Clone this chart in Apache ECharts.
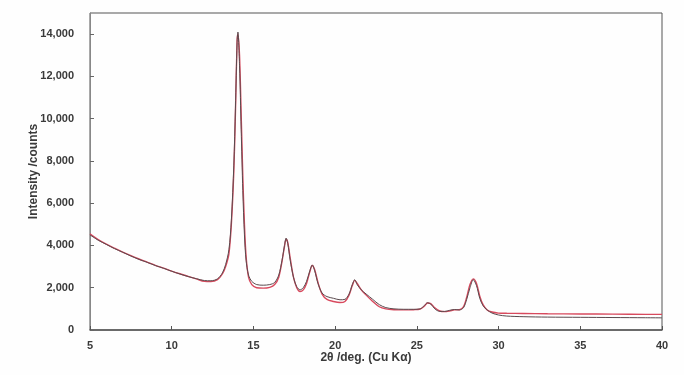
<!DOCTYPE html>
<html>
<head>
<meta charset="utf-8">
<script src="https://cdn.jsdelivr.net/npm/echarts@6/dist/echarts.min.js"></script>
<style>
  html, body { margin: 0; padding: 0; background: #fefefe; }
  #chart { width: 684px; height: 375px; }
</style>
</head>
<body>
<div id="chart"></div>
<script>
// XRD pattern: 2-theta angles (deg) and intensities (counts)
const twoTheta = [
  5.0, 5.5, 6.0, 6.5, 7.0, 7.5, 8.0, 8.5, 9.0, 9.5, 10.0, 10.5, 11.0, 11.5, 12.0, 12.4, 12.8,
  13.1, 13.3, 13.5, 13.65, 13.8, 13.9, 14.0, 14.05, 14.15, 14.25, 14.35, 14.45, 14.55, 14.7, 14.9,
  15.2, 15.6, 16.0, 16.3, 16.55, 16.75, 16.9, 17.0, 17.1, 17.25, 17.45, 17.65, 17.85, 18.05, 18.25,
  18.45, 18.6, 18.75, 18.95, 19.2, 19.5, 19.9, 20.3, 20.6, 20.85, 21.05, 21.2, 21.35, 21.6, 21.9,
  22.3, 22.7, 23.1, 23.6, 24.2, 24.8, 25.2, 25.45, 25.65, 25.85, 26.1, 26.4, 26.7, 27.0, 27.3,
  27.6, 27.85, 28.05, 28.25, 28.45, 28.65, 28.85, 29.05, 29.3, 29.6, 30.0, 30.5, 31.5, 33.0, 35.0,
  37.0, 39.0, 40.0
];

// measured intensity (red trace)
const observed = [
  4550, 4280, 4060, 3870, 3690, 3520, 3360, 3210, 3060, 2930, 2790, 2660, 2540, 2420, 2300, 2290, 2380,
  2650, 3000, 3600, 5000, 7500, 10300, 13700, 14000, 13000, 10200, 7300, 5000, 3500, 2500, 2150,
  2000, 1980, 2020, 2150, 2500, 3250, 3950, 4300, 4150, 3400, 2500, 2000, 1820, 1900, 2200,
  2750, 3050, 2850, 2250, 1700, 1450, 1350, 1300, 1350, 1650, 2100, 2350, 2200, 1900, 1650,
  1350, 1100, 1000, 960, 950, 960, 990, 1120, 1280, 1250, 1050, 900, 870, 900, 950,
  960, 1100, 1550, 2150, 2420, 2200, 1600, 1200, 950, 850, 800, 790, 780, 770, 760,
  750, 740, 740
];

// fitted profile (dark trace)
const fitted = [
  4500, 4250, 4050, 3850, 3680, 3500, 3340, 3200, 3050, 2920, 2780, 2650, 2530, 2430, 2340, 2330, 2420,
  2700, 3100, 3800, 5200, 7800, 10500, 13600, 14100, 12500, 9500, 6600, 4500, 3300, 2600, 2300,
  2150, 2120, 2150, 2250, 2600, 3300, 4000, 4350, 4100, 3300, 2500, 2050, 1900, 2000, 2300,
  2800, 3080, 2800, 2200, 1750, 1580, 1500, 1430, 1450, 1700, 2150, 2380, 2150, 1900, 1700,
  1450, 1200, 1060, 1000, 980, 980, 1000, 1150, 1290, 1230, 1000, 880, 880, 930, 970,
  950, 1050, 1450, 2000, 2380, 2100, 1500, 1150, 950, 800, 710, 660, 630, 610, 600,
  590, 580, 575
];

const xTicks = [5, 10, 15, 20, 25, 30, 35, 40];
const yTicks = [0, 2000, 4000, 6000, 8000, 10000, 12000, 14000];

const pairs = (ys) => twoTheta.map((x, i) => [x, ys[i]]);

const labelFont = {
  fontFamily: 'Liberation Sans, Arial, sans-serif',
  fontSize: 11,
  fontWeight: 'bold',
  color: '#3a3a3a'
};

const chart = echarts.init(document.getElementById('chart'), null, { renderer: 'canvas' });
chart.setOption({
  animation: false,
  backgroundColor: '#fefefe',
  grid: {
    left: 90, right: 22, top: 13, bottom: 45,
    show: true, borderColor: '#555', borderWidth: 1, backgroundColor: 'transparent'
  },
  xAxis: {
    type: 'value',
    min: xTicks[0],
    max: xTicks[xTicks.length - 1],
    interval: xTicks[1] - xTicks[0],
    name: '2θ /deg. (Cu Kα)',
    nameLocation: 'middle',
    nameGap: 22,
    nameMoveOverlap: false,
    nameTextStyle: Object.assign({}, labelFont, { fontSize: 12, padding: [0, 20, 0, 0] }),
    axisLine: { show: true, lineStyle: { color: '#555', width: 1.5 } },
    axisTick: { show: true, inside: true, length: 4, lineStyle: { color: '#555' } },
    axisLabel: Object.assign({}, labelFont, { margin: 10 }),
    splitLine: { show: false }
  },
  yAxis: {
    type: 'value',
    min: 0,
    max: 15000,
    interval: yTicks[1] - yTicks[0],
    name: 'Intensity /counts',
    nameLocation: 'middle',
    nameGap: 50,
    nameMoveOverlap: false,
    nameTextStyle: Object.assign({}, labelFont, { fontSize: 12 }),
    axisLine: { show: true, lineStyle: { color: '#888', width: 1 } },
    axisTick: { show: true, inside: true, length: 4, lineStyle: { color: '#666' } },
    axisLabel: Object.assign({}, labelFont, {
      margin: 16,
      showMaxLabel: false,
      formatter: (v) => yTicks.indexOf(v) >= 0 ? v.toLocaleString('en-US') : ''
    }),
    splitLine: { show: false }
  },
  series: [
    {
      name: 'observed',
      type: 'line',
      data: pairs(observed),
      showSymbol: false,
      smooth: 0.3,
      lineStyle: { color: '#d84a5e', width: 1.4 },
      z: 2
    },
    {
      name: 'fitted',
      type: 'line',
      data: pairs(fitted),
      showSymbol: false,
      smooth: 0.3,
      lineStyle: { color: '#5a4a4e', width: 1 },
      z: 3
    }
  ]
});
</script>
</body>
</html>
